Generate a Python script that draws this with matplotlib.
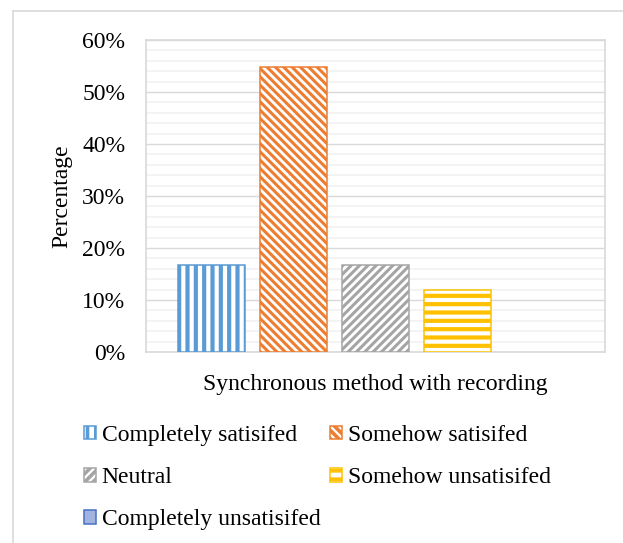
import matplotlib.pyplot as plt
from matplotlib.lines import Line2D
from matplotlib.patches import Patch
from matplotlib.ticker import MultipleLocator, PercentFormatter
import numpy as np

categories = ['Synchronous method with recording']
series = ['Completely satisifed', 'Somehow satisifed', 'Neutral',
          'Somehow unsatisifed', 'Completely unsatisifed']
values = [16.7, 54.8, 16.7, 11.9, 0.0]  # percent of respondents

EDGE_COLORS = ['#5b9bd5', '#ed7d31', '#a5a5a5', '#ffc000', '#4472c4']
FACE_COLORS = ['white', 'white', 'white', 'white', '#a3b3df']
HATCHES = ['||', '\\\\\\\\', '////', '--', None]
HATCH_LW = [3.0, 2.2, 2.2, 3.0, 1.0]

W, H, DPI = 623, 543, 100
FONT_SIZE = 17

plt.rcParams['font.family'] = ['Liberation Serif', 'DejaVu Serif']
plt.rcParams['hatch.linewidth'] = 2.6

fig = plt.figure(figsize=(W / DPI, H / DPI), dpi=DPI)
# plot area in pixel terms: x 146..605, y 40..352
ax = fig.add_axes([146 / W, 1 - 352 / H, 459 / W, 312 / H])

n = len(series)
bar_w = 67 / 82
offsets = np.arange(n) - (n - 1) / 2


def set_hatch_lw(patch, lw):
    if hasattr(patch, 'set_hatch_linewidth'):
        patch.set_hatch_linewidth(lw)


handles = []
for i, name in enumerate(series):
    # an empty bar would otherwise leave its outline on the baseline
    lw = 1.1 if values[i] > 0 else 0
    bars = ax.bar(offsets[i], values[i], width=bar_w, facecolor=FACE_COLORS[i],
                  edgecolor=EDGE_COLORS[i], hatch=HATCHES[i], linewidth=lw, zorder=3)
    for p in bars:
        set_hatch_lw(p, HATCH_LW[i])
    h = Patch(facecolor=FACE_COLORS[i], edgecolor=EDGE_COLORS[i],
              hatch=HATCHES[i], linewidth=1.1)
    set_hatch_lw(h, HATCH_LW[i])
    handles.append(h)

half = 229.5 / 82
ax.set_xlim(-half, half)
ax.set_ylim(0, 60)

ax.set_xticks([0])
ax.set_xticklabels(categories, fontsize=FONT_SIZE)
ax.yaxis.set_major_locator(MultipleLocator(10))
ax.yaxis.set_minor_locator(MultipleLocator(2))
ax.yaxis.set_major_formatter(PercentFormatter(decimals=0))
ax.tick_params(axis='y', which='both', length=0, pad=15, labelsize=FONT_SIZE)
ax.tick_params(axis='x', length=0, pad=16)

ax.grid(True, axis='y', which='major', color='#d9d9d9', linewidth=1.0, zorder=1)
ax.grid(True, axis='y', which='minor', color='#f0f0f0', linewidth=1.1, zorder=0)
ax.set_axisbelow(True)
for sp in ax.spines.values():
    sp.set_color('#d9d9d9')
    sp.set_linewidth(1.2)

ax.set_ylabel('Percentage', fontsize=FONT_SIZE, va='center')
ax.yaxis.set_label_coords((62 - 146) / 459, 0.5)

# Excel fills the legend row by row; matplotlib fills by column
order = [0, 2, 4, 1, 3]
fig.legend([handles[i] for i in order], [series[i] for i in order],
           ncol=2, loc='upper left', bbox_to_anchor=(84 / W, 1 - 425 / H),
           frameon=False, fontsize=FONT_SIZE, handlelength=0.5, handleheight=0.5,
           handletextpad=0.25, columnspacing=0.4, labelspacing=0.9,
           borderpad=0, borderaxespad=0)

# light frame around the whole chart
frame_kw = dict(color='#d9d9d9', linewidth=1.2, transform=fig.transFigure)
fig.add_artist(Line2D([13.5 / W, 13.5 / W], [0, 1 - 10.5 / H], **frame_kw))
fig.add_artist(Line2D([13.5 / W, 1], [1 - 10.5 / H, 1 - 10.5 / H], **frame_kw))

fig.savefig('out.png', dpi=DPI, facecolor='white')
